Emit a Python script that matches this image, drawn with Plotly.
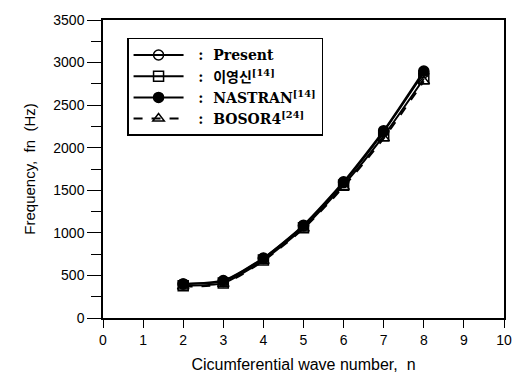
import plotly.graph_objects as go

n_vals = [2, 3, 4, 5, 6, 7, 8]
present = [400, 430, 700, 1080, 1590, 2190, 2880]
lee = [380, 410, 680, 1060, 1560, 2140, 2810]
nastran = [400, 440, 705, 1090, 1600, 2200, 2900]
bosor4 = [370, 400, 670, 1050, 1540, 2110, 2780]

x_ticks = list(range(0, 11))
y_ticks = list(range(0, 3501, 500))

fig = go.Figure()
series = [
    ("Present", present, "circle-open", "solid"),
    ("이영신<sup>[14]</sup>", lee, "square-open", "solid"),
    ("NASTRAN<sup>[14]</sup>", nastran, "circle", "solid"),
    ("BOSOR4<sup>[24]</sup>", bosor4, "triangle-up-open", "dash"),
]
for name, ys, sym, dash in series:
    fig.add_trace(go.Scatter(
        x=n_vals, y=ys, mode="lines+markers",
        name="<b>&nbsp;&nbsp;:&nbsp;&nbsp;" + name + "</b>",
        line=dict(color="black", width=2, dash=dash, shape="spline", smoothing=0.6),
        marker=dict(symbol=sym, size=10, color="black", line=dict(color="black", width=1.5)),
    ))

fig.update_layout(
    width=524, height=383,
    margin=dict(l=103, r=18, t=13, b=64),
    paper_bgcolor="white", plot_bgcolor="white",
    showlegend=True,
    legend=dict(
        x=0.06, y=0.94, xanchor="left", yanchor="top",
        bordercolor="black", borderwidth=1.5, bgcolor="white",
        font=dict(family="DejaVu Serif, Noto Sans CJK KR", size=14, color="black"),
        tracegroupgap=0, itemwidth=50,
    ),
    font=dict(family="Liberation Sans, Arial", color="black"),
)
fig.update_xaxes(
    range=[0, 10], tickvals=x_ticks, ticktext=[str(v) for v in x_ticks],
    showline=True, linecolor="black", linewidth=1.5, mirror=True,
    ticks="outside", ticklen=8, tickwidth=1.2, tickcolor="black",
    showgrid=False, zeroline=False,
    tickfont=dict(size=14),
    title=dict(text="Cicumferential wave number,  n", font=dict(size=16), standoff=12),
)
fig.update_yaxes(
    range=[0, 3500], tickvals=y_ticks, ticktext=[str(v) for v in y_ticks],
    showline=True, linecolor="black", linewidth=1.5, mirror=True,
    ticks="outside", ticklen=14, tickwidth=1.2, tickcolor="black",
    minor=dict(dtick=250, ticks="outside", ticklen=10, tickcolor="black", tickwidth=1.2),
    showgrid=False, zeroline=False,
    tickfont=dict(size=14),
    title=dict(text="Frequency,  fn  (Hz)", font=dict(size=15), standoff=14),
)

fig.write_html("out.html", post_script="document.body.style.margin='0';",
               config={"displayModeBar": False})
